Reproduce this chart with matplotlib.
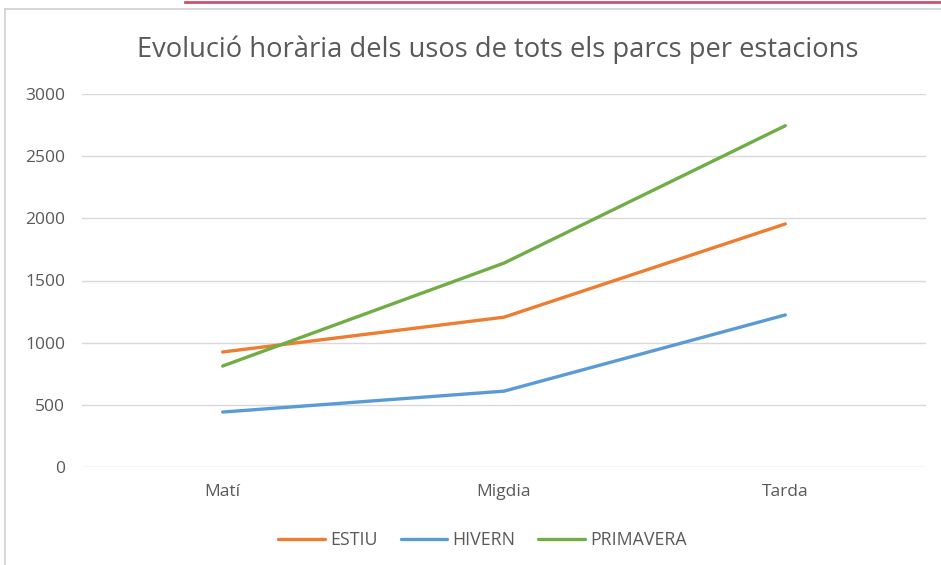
import matplotlib.pyplot as plt
from matplotlib.lines import Line2D

# data
moments = ["Matí", "Migdia", "Tarda"]
estiu = [925, 1205, 1955]
hivern = [442, 610, 1223]
primavera = [812, 1640, 2745]
yticks = [0, 500, 1000, 1500, 2000, 2500, 3000]

plt.rcParams['font.family'] = ['Open Sans', 'DejaVu Sans']
txt = "#595959"

fig = plt.figure(figsize=(9.41, 5.65), dpi=100)
ax = fig.add_axes([82/941, 1-467/565, (926-82)/941, (467-94)/565])

x = range(len(moments))
ax.plot(x, estiu, color="#ED7D31", lw=2.4, label="ESTIU", solid_capstyle="round")
ax.plot(x, hivern, color="#5B9BD5", lw=2.4, label="HIVERN", solid_capstyle="round")
ax.plot(x, primavera, color="#70AD47", lw=2.4, label="PRIMAVERA", solid_capstyle="round")

ax.set_xlim(-0.5, 2.5)
ax.set_ylim(0, 3000)
ax.set_xticks(list(x))
ax.set_xticklabels(moments)
ax.set_yticks(yticks)
ax.tick_params(length=0, labelsize=12.5, colors=txt)
ax.tick_params(axis="y", pad=12)
ax.tick_params(axis="x", pad=12)
ax.grid(axis="y", color="#d9d9d9", lw=1)
ax.set_axisbelow(True)
for s in ax.spines.values():
    s.set_visible(False)

fig.text(498/941, 1-50/565, "Evolució horària dels usos de tots els parcs per estacions",
         ha="center", va="center", fontsize=19.7, color=txt)

# legend is a little left of the plot centre in the original
ax.legend(loc="center", bbox_to_anchor=(0.4745, -0.196), ncol=3, frameon=False,
          fontsize=12.8, labelcolor=txt, handlelength=2.6, columnspacing=1.3,
          handletextpad=0.3)

# frame of the slide
fig.add_artist(Line2D([5/941, 5/941], [0, 1-9/565], color="#d0d0d0", lw=1.2))
fig.add_artist(Line2D([5/941, 1], [1-9/565, 1-9/565], color="#d0d0d0", lw=1.2))
fig.add_artist(Line2D([185/941, 1], [1-1.5/565, 1-1.5/565], color="#d0506e", lw=2))

fig.savefig("out.png", dpi=100)
